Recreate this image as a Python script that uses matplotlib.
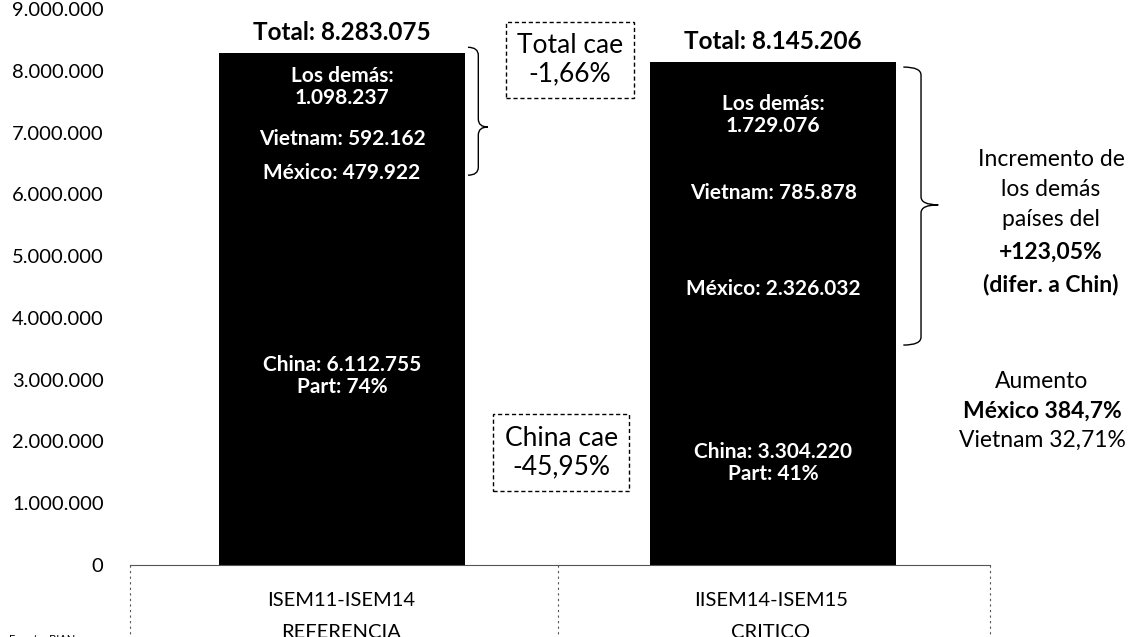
import matplotlib
matplotlib.use("Agg")
import matplotlib.pyplot as plt
from matplotlib.path import Path
from matplotlib.patches import PathPatch
from matplotlib.ticker import FuncFormatter

plt.rcParams["font.family"] = ["Lato", "DejaVu Sans"]

# datos: dos periodos, cuatro tramos apilados (China, México, Vietnam, Los demás)
periodos = ["ISEM11-ISEM14", "IISEM14-ISEM15"]
etiquetas_periodo = ["REFERENCIA", "CRITICO"]
china = [6112755, 3304220]
mexico = [479922, 2326032]
vietnam = [592162, 785878]
los_demas = [1098237, 1729076]
totales = [8283075, 8145206]
yticks = list(range(0, 9000001, 1000000))


def miles(v):
    return f"{int(round(v)):,}".replace(",", ".")


def pct(v, dec=2):
    return f"{v:.{dec}f}".replace(".", ",")


fig = plt.figure(figsize=(11.32, 6.37), dpi=100)
ax = fig.add_axes([130 / 1132, 72 / 637, 860 / 1132, 556 / 637])

x = [0, 1]
ancho = 0.571
base = [0, 0]
tramos = [china, mexico, vietnam, los_demas]
for serie in tramos:
    ax.bar(x, serie, width=ancho, bottom=base, color="black", linewidth=0)
    base = [b + s for b, s in zip(base, serie)]

# etiquetas dentro de las barras (centro de cada tramo)
for i in x:
    part = round(china[i] / totales[i] * 100)
    textos = [f"China: {miles(china[i])}\nPart: {part}%",
              f"México: {miles(mexico[i])}",
              f"Vietnam: {miles(vietnam[i])}",
              f"Los demás:\n{miles(los_demas[i])}"]
    abajo = 0
    for serie, t in zip(tramos, textos):
        ax.text(i, abajo + serie[i] / 2, t, ha="center", va="center",
                color="white", fontsize=15, fontweight="bold", linespacing=1.15)
        abajo += serie[i]
    ax.text(i, base[i] + 150000, f"Total: {miles(totales[i])}", ha="center",
            va="bottom", fontsize=17.5, fontweight="bold")

# cajas punteadas con las caídas
caida_total = (totales[1] / totales[0] - 1) * 100
caida_china = (china[1] / china[0] - 1) * 100
caja = dict(boxstyle="square,pad=0.42", fc="white", ec="black", ls=(0, (3, 2)), lw=1)
ax.text(0.529, 8180000, f"Total cae\n{pct(caida_total)}%", ha="center", va="center",
        fontsize=19, bbox=caja, linespacing=1.2)
ax.text(0.508, 1820000, f"China cae\n{pct(caida_china)}%", ha="center", va="center",
        fontsize=19, bbox=caja, linespacing=1.2)


def llave(x0, x1, xtip, ytop, ybot, ymid, ry):
    verts = [(x0, ytop), (x1, ytop), (x1, ytop - ry),
             (x1, ymid + ry), (x1, ymid), (xtip, ymid),
             (x1, ymid), (x1, ymid - ry),
             (x1, ybot + ry), (x1, ybot), (x0, ybot)]
    codes = [Path.MOVETO, Path.CURVE3, Path.CURVE3,
             Path.LINETO, Path.CURVE3, Path.CURVE3,
             Path.CURVE3, Path.CURVE3,
             Path.LINETO, Path.CURVE3, Path.CURVE3]
    ax.add_patch(PathPatch(Path(verts, codes), fill=False, lw=1, color="black",
                           clip_on=False))


llave(0.292, 0.316, 0.338, 8380000, 6310000, 7090000, 130000)
llave(1.302, 1.343, 1.383, 8060000, 3560000, 5830000, 130000)

ax.set_xlim(-0.492, 1.503)
ax.set_ylim(0, 9000000)
ax.set_yticks(yticks)
ax.yaxis.set_major_formatter(FuncFormatter(lambda v, p: miles(v)))
ax.tick_params(axis="y", length=0, pad=19, labelsize=14.5)
ax.set_xticks([])
for s in ["left", "top", "right"]:
    ax.spines[s].set_visible(False)
ax.spines["bottom"].set_color("#555555")
ax.spines["bottom"].set_linestyle((0, (1, 1)))
ax.spines["bottom"].set_linewidth(0.8)

# tabla de categorías bajo el eje
for xa in [0, 0.4977, 1]:
    ax.plot([xa, xa], [0, -0.14], transform=ax.transAxes, clip_on=False,
            color="#555555", lw=0.8, ls=(0, (2, 3)))
for xc, p, e in zip([0.245, 0.745], periodos, etiquetas_periodo):
    ax.text(xc, -0.063, p, transform=ax.transAxes, ha="center", va="center", fontsize=14.5)
    ax.text(xc, -0.121, e, transform=ax.transAxes, ha="center", va="center", fontsize=14.5)

# textos de la derecha
otros0 = mexico[0] + vietnam[0] + los_demas[0]
otros1 = mexico[1] + vietnam[1] + los_demas[1]
inc_otros = (otros1 / otros0 - 1) * 100
inc_mex = (mexico[1] / mexico[0] - 1) * 100
inc_vn = (vietnam[1] / vietnam[0] - 1) * 100
lineas = [("Incremento de", 1051, 160, "normal"), ("los demás", 1051, 190, "normal"),
          ("países del", 1051, 220, "normal"), (f"+{pct(inc_otros)}%", 1051, 252, "bold"),
          ("(difer. a Chin)", 1051, 285, "bold"),
          ("Aumento", 1042, 382, "normal"), (f"México {pct(inc_mex, 1)}%", 1042, 411, "bold"),
          (f"Vietnam {pct(inc_vn)}%", 1042, 440, "normal")]
for t, xp, yp, w in lineas:
    fig.text(xp / 1132, 1 - yp / 637, t, ha="center", va="center", fontsize=16.5,
             fontweight=w)

fig.text(0.008, -0.004, "Fuente: BIAN", ha="left", va="center", fontsize=8)

fig.savefig("out.png", dpi=100)
